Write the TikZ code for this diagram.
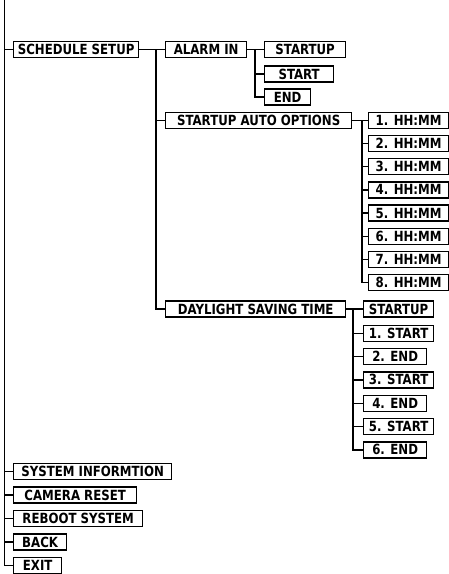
\documentclass[tikz,border=0pt]{standalone}
\usepackage{fontspec}
\setmainfont{DejaVu Sans}[FakeStretch=0.84]
\usepackage{tikz}
\usetikzlibrary{positioning, calc}

\begin{document}
\begin{tikzpicture}[x=1pt, y=-1pt,
    menu/.style={draw, line width=1.3pt, anchor=west, inner xsep=0pt, inner ysep=0pt,
        minimum height=16pt, text height=10pt, text depth=0pt,
        font=\fontsize{14}{14}\selectfont\bfseries},
    link/.style={line width=1.3pt},
]
    \useasboundingbox (0,0) rectangle (449,574);

    % Top level
    \coordinate (top) at (4.5,0);
    \node[menu, minimum width=125] (sched) at (13,49.5) {SCHEDULE SETUP};
    \node[menu, minimum width=158] (sysinfo) at (13,471.5) {SYSTEM INFORMTION};
    \node[menu, minimum width=123] (camreset) at (13,495) {CAMERA RESET};
    \node[menu, minimum width=129] (reboot) at (13,518.5) {REBOOT SYSTEM};
    \node[menu, minimum width=53] (back) at (13,542) {BACK};
    \node[menu, minimum width=48] (exit) at (13,565.5) {EXIT};

    \draw[link] (top) |- (exit.west);
    \foreach \n in {sched, sysinfo, camreset, reboot, back}
        \draw[link] (\n.west) -- ++(-8.5,0);

    % Schedule setup
    \node[menu, minimum width=81] (alarmin) at (165,49.5) {ALARM IN};
    \node[menu, minimum width=186] (autoopt) at (165,120.5) {STARTUP AUTO OPTIONS};
    \node[menu, minimum width=180] (dst) at (165,309) {DAYLIGHT SAVING TIME};

    \draw[link] (sched.east) -- (alarmin.west);
    \draw[link] ([xshift=-9pt]alarmin.west) |- (dst.west);
    \draw[link] ([xshift=-9pt]autoopt.west) -- (autoopt.west);

    % Alarm in
    \node[menu, minimum width=81] (astartup) at (264,49.5) {STARTUP};
    \node[menu, minimum width=69] (astart) at (264,74) {START};
    \node[menu, minimum width=46] (aend) at (264,97) {END};

    \draw[link] (alarmin.east) -- (astartup.west);
    \draw[link] ([xshift=-9pt]astartup.west) |- (aend.west);
    \draw[link] ([xshift=-9pt]astart.west) -- (astart.west);

    % Startup auto options
    \foreach \i in {1,...,8}
        \node[menu, minimum width=80] (hh\i) at (368,{120.5+23.15*(\i-1)}) {\i. HH:MM};

    \draw[link] (autoopt.east) -- (hh1.west);
    \draw[link] ([xshift=-6pt]hh1.west) |- (hh8.west);
    \foreach \i in {2,...,7}
        \draw[link] (hh\i.west) -- ++(-6,0);

    % Daylight saving time
    \node[menu, minimum width=70] (dstartup) at (363,309) {STARTUP};
    \foreach \i/\t/\w in {1/START/70, 2/END/63, 3/START/70, 4/END/63, 5/START/70, 6/END/63}
        \node[menu, minimum width=\w] (d\i) at (363,{310+23.33*\i}) {\i. \t};

    \draw[link] (dst.east) -- (dstartup.west);
    \draw[link] ([xshift=-10pt]dstartup.west) |- (d6.west);
    \foreach \i in {1,...,5}
        \draw[link] (d\i.west) -- ++(-10,0);
\end{tikzpicture}
\end{document}
